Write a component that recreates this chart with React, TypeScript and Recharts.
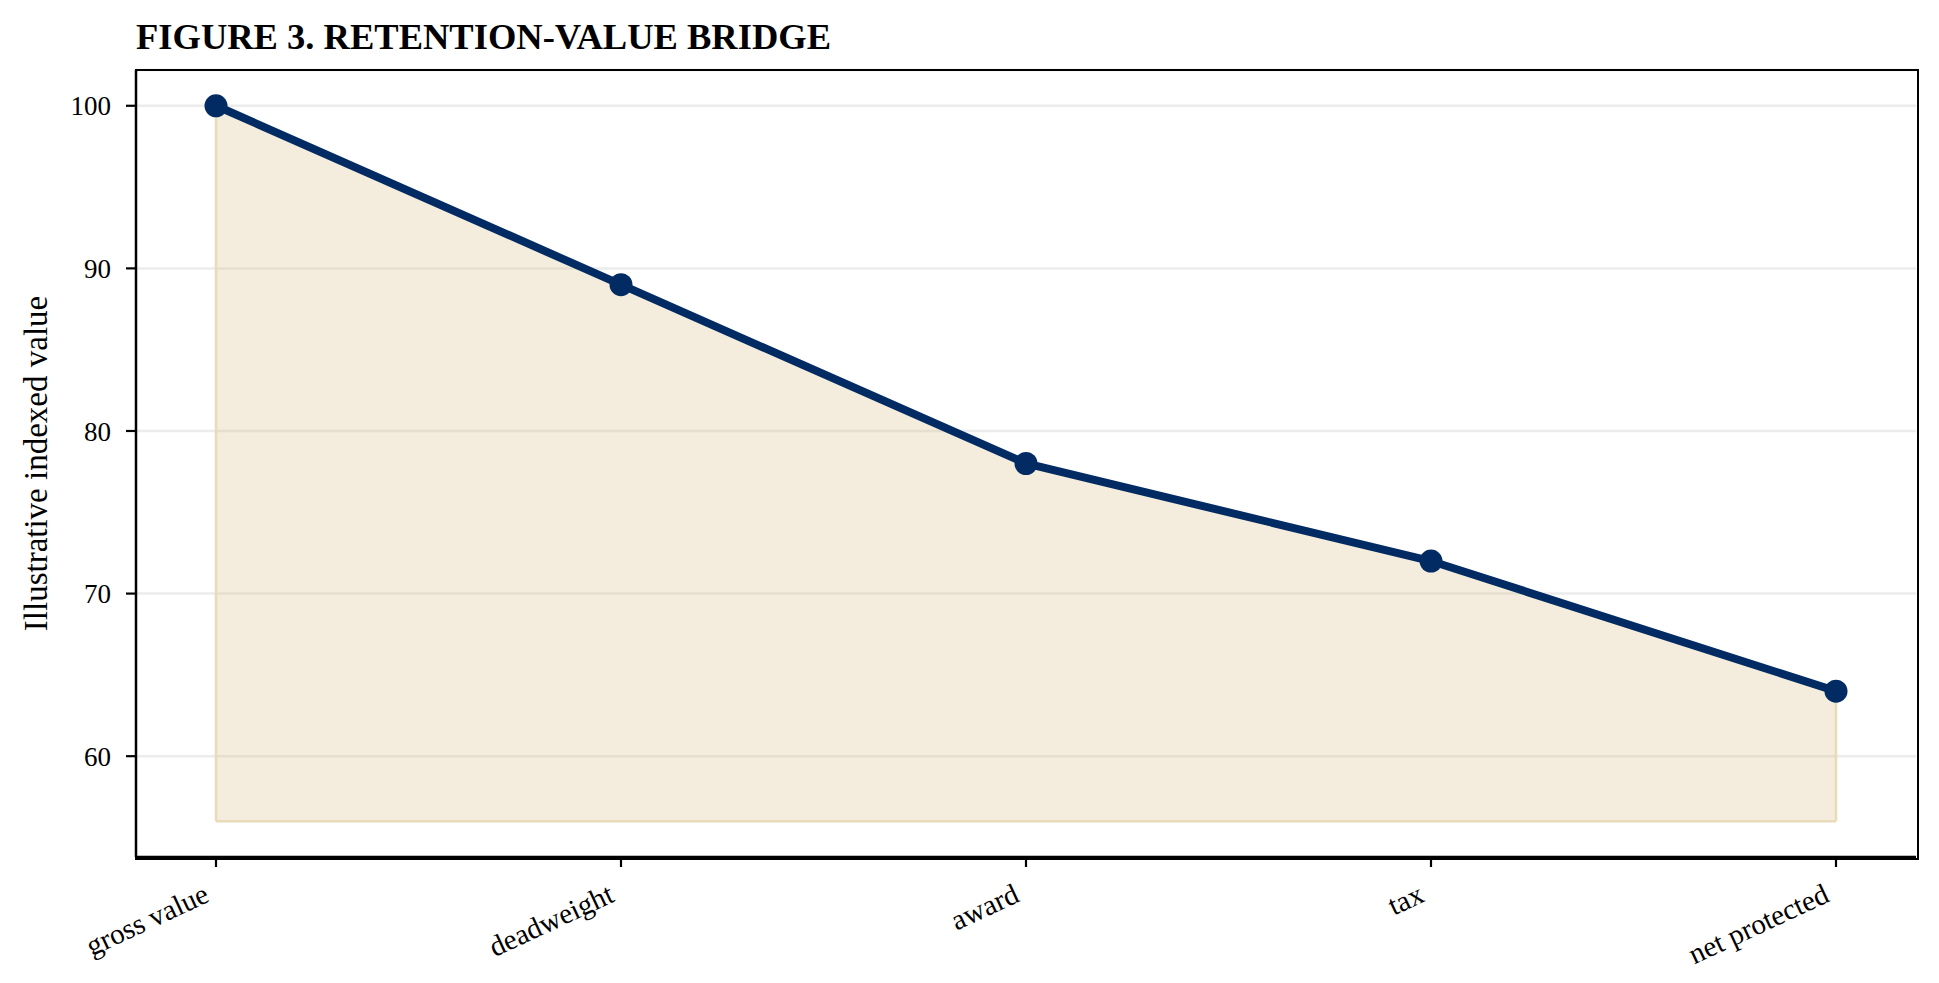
import { ComposedChart, Area, Line, XAxis, YAxis, CartesianGrid, ReferenceLine } from 'recharts';

// Bridge steps and indexed values
const STEPS = ['gross value', 'deadweight', 'award', 'tax', 'net protected'];
const VALUES = [100, 89, 78, 72, 64];
const Y_TICKS = [60, 70, 80, 90, 100];
const FILL_FLOOR = 56;

const data = STEPS.map((step, i) => ({ step, value: VALUES[i] }));

const SERIF = '"Liberation Serif", "Times New Roman", Times, serif';
const NAVY = '#022b63';
const EDGE = '#e8dbb7';

const W = 1939;
const H = 983;
const PLOT = { left: 136, top: 70, right: 1916, bottom: 857 };

// Rotated category label, right edge pinned to the tick
const XTick = ({ x, y, payload }: { x: number; y: number; payload: { value: string } }) => (
  <g transform={`translate(${x - 14},${y + 6})`}>
    <text
      x={0}
      y={0}
      textAnchor="end"
      dominantBaseline="hanging"
      transform="rotate(-25)"
      fontFamily={SERIF}
      fontSize={29}
      fill="#000"
    >
      {payload.value}
    </text>
  </g>
);

export default function App() {
  return (
    <div style={{ position: 'absolute', left: 0, top: 0, width: W, height: H, background: '#fff', fontFamily: SERIF }}>
      <div
        style={{
          position: 'absolute',
          left: PLOT.left,
          top: 19,
          fontSize: 36.5,
          lineHeight: '36px',
          fontWeight: 'bold',
          color: '#000',
          whiteSpace: 'nowrap',
        }}
      >
        FIGURE 3. RETENTION-VALUE BRIDGE
      </div>

      <ComposedChart
        width={W}
        height={H}
        data={data}
        margin={{ top: PLOT.top, right: W - PLOT.right, left: 0, bottom: 0 }}
      >
        <CartesianGrid horizontal vertical={false} stroke="#ececec" strokeWidth={2.5} />
        <XAxis
          dataKey="step"
          type="category"
          padding={{ left: 80, right: 80 }}
          height={H - PLOT.bottom}
          tickSize={10}
          tickMargin={9}
          tickLine={{ stroke: '#000', strokeWidth: 2.2 }}
          axisLine={{ stroke: '#000', strokeWidth: 2.5 }}
          tick={XTick}
          interval={0}
        />
        <YAxis
          type="number"
          domain={[53.8, 102.2]}
          ticks={Y_TICKS}
          width={PLOT.left}
          tickSize={10}
          tickMargin={15}
          tickLine={{ stroke: '#000', strokeWidth: 2.2 }}
          axisLine={{ stroke: '#000', strokeWidth: 2.5 }}
          tick={{ fontFamily: SERIF, fontSize: 27, fill: '#000' }}
          label={{
            value: 'Illustrative indexed value',
            angle: -90,
            position: 'insideLeft',
            offset: 35,
            style: { textAnchor: 'middle', fontFamily: SERIF, fontSize: 33, fill: '#000' },
          }}
        />
        <Area
          dataKey="value"
          baseValue={FILL_FLOOR}
          type="linear"
          fill="#d6bc82"
          fillOpacity={0.28}
          stroke="none"
          isAnimationActive={false}
        />
        <ReferenceLine
          segment={[{ x: STEPS[0], y: FILL_FLOOR }, { x: STEPS[STEPS.length - 1], y: FILL_FLOOR }]}
          stroke={EDGE}
          strokeWidth={2.5}
        />
        <ReferenceLine
          segment={[{ x: STEPS[0], y: FILL_FLOOR }, { x: STEPS[0], y: VALUES[0] }]}
          stroke={EDGE}
          strokeWidth={2.5}
        />
        <ReferenceLine
          segment={[{ x: STEPS[STEPS.length - 1], y: FILL_FLOOR }, { x: STEPS[STEPS.length - 1], y: VALUES[VALUES.length - 1] }]}
          stroke={EDGE}
          strokeWidth={2.5}
        />
        <Line
          dataKey="value"
          type="linear"
          stroke={NAVY}
          strokeWidth={8}
          dot={{ r: 11.5, fill: NAVY, stroke: 'none' }}
          activeDot={false}
          isAnimationActive={false}
        />
      </ComposedChart>

      {/* plot frame */}
      <div
        style={{
          position: 'absolute',
          left: PLOT.left - 1.25,
          top: PLOT.top - 1.25,
          width: PLOT.right - PLOT.left,
          height: PLOT.bottom - PLOT.top,
          border: '2.5px solid #000',
          pointerEvents: 'none',
        }}
      />
    </div>
  );
}
